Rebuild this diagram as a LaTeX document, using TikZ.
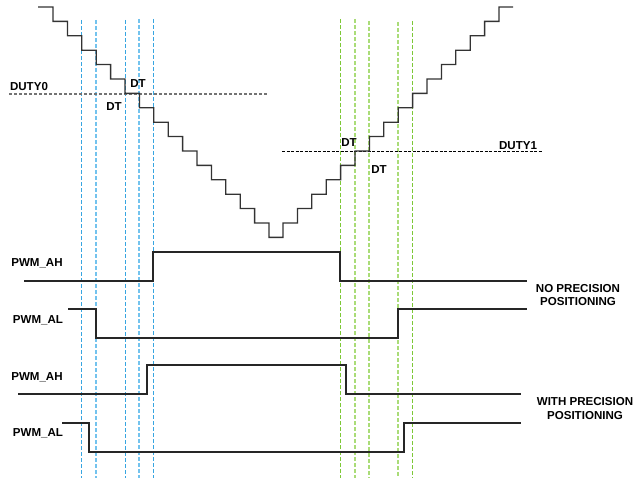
\documentclass[tikz,border=0pt]{standalone}
\usepackage{fontspec}
\setmainfont{Liberation Sans}
\definecolor{blueA}{RGB}{55,165,225}
\definecolor{blueB}{RGB}{115,195,238}
\definecolor{greenA}{RGB}{125,200,55}
\definecolor{greenB}{RGB}{170,220,120}
\begin{document}
\begin{tikzpicture}[x=1bp,y=-1bp,
  lbl/.style={font=\fontsize{11.6}{14}\selectfont\bfseries, inner sep=0pt, align=center},
  stair/.style={draw=black!80, line width=1.3bp},
  sig/.style={draw=black!85, line width=1.3bp},
  bguide/.style={draw=blueA, line width=1.2bp, dash pattern=on 4bp off 2bp},
  bguideL/.style={draw=blueB, line width=1.2bp, dash pattern=on 4bp off 2bp},
  gguide/.style={draw=greenA, line width=1.2bp, dash pattern=on 4bp off 2bp},
  gguideL/.style={draw=greenB, line width=1.2bp, dash pattern=on 4bp off 2bp},
  duty0/.style={draw=black!55, line width=2bp, dash pattern=on 3bp off 2bp},
  duty1/.style={draw=black, line width=1bp, dash pattern=on 3bp off 1.5bp}]
\useasboundingbox (0,0) rectangle (636,482);
% guide lines
\draw[bguide]  (81.5,20) -- (81.5,478);
\draw[bguideL] (96,20) -- (96,478);
\draw[bguide]  (125.5,20) -- (125.5,478);
\draw[bguideL] (139,19) -- (139,478);
\draw[bguide]  (153.5,19) -- (153.5,478);
\draw[gguide]  (340.5,19) -- (340.5,478);
\draw[gguideL] (355,19) -- (355,478);
\draw[gguideL] (369,21) -- (369,478);
\draw[gguideL] (398,22) -- (398,478);
\draw[gguide]  (412.5,21) -- (412.5,478);
% duty levels
\draw[duty0] (9,94) -- (269,94);
\draw[duty1] (282,152) -- (542,152);
\node[lbl] (d0) at (29,87) {DUTY0};
\node[lbl] (d1) at (518,146) {DUTY1};
\node[lbl] (dt1) at (138,84) {DT};
\node[lbl] (dt2) at (114,107) {DT};
\node[lbl] (dt3) at (349,143) {DT};
\node[lbl] (dt4) at (379,170) {DT};
% staircase
\draw[stair] (38,7)
  \foreach \k in {0,...,15} { -- ({53+14.4*\k},{7+14.4*\k}) -- ({53+14.4*\k},{7+14.4*(\k+1)}) }
  -- (283,237.4)
  \foreach \k in {0,...,15} { -- ({283+14.4*\k},{237.4-14.4*\k}) -- ({283+14.4*\k},{237.4-14.4*(\k+1)}) }
  -- (513,7);
% PWM signals, no precision
\node[lbl] (ah1) at (37,263) {PWM\_AH};
\node[lbl] (al1) at (38,320) {PWM\_AL};
\draw[sig] (24,281) -- (153,281) -- (153,252) -- (340,252) -- (340,281) -- (527,281);
\draw[sig] (68,309) -- (96,309) -- (96,338) -- (398,338) -- (398,309) -- (527,309);
\node[lbl] (np) at (578,295) {NO PRECISION\\POSITIONING};
% PWM signals, with precision
\node[lbl] (ah2) at (37,377) {PWM\_AH};
\node[lbl] (al2) at (38,433) {PWM\_AL};
\draw[sig] (18,394) -- (147,394) -- (147,365) -- (346,365) -- (346,394) -- (521,394);
\draw[sig] (62,423) -- (89,423) -- (89,452) -- (404,452) -- (404,423) -- (521,423);
\node[lbl] (wp) at (585,408.5) {WITH PRECISION\\POSITIONING};
\end{tikzpicture}
\end{document}
